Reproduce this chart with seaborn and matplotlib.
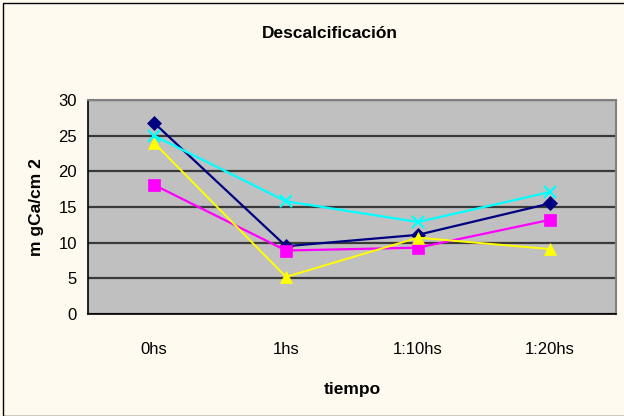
import matplotlib
matplotlib.use("Agg")
import matplotlib.pyplot as plt
import seaborn as sns
import pandas as pd
from matplotlib.patches import Rectangle

# datos
tiempos = ["0hs", "1hs", "1:10hs", "1:20hs"]
serie1 = [26.8, 9.5, 11.1, 15.5]
serie2 = [18.1, 8.9, 9.3, 13.2]
serie3 = [24.0, 5.2, 10.7, 9.1]
serie4 = [25.0, 15.8, 12.9, 17.1]

sns.set_style("white")
plt.rcParams['font.family'] = ['Liberation Sans', 'DejaVu Sans']
plt.rcParams['text.color'] = 'black'
plt.rcParams['axes.labelcolor'] = 'black'
plt.rcParams['xtick.color'] = 'black'
plt.rcParams['ytick.color'] = 'black'

fondo = "#FFFAEF"
fig = plt.figure(figsize=(6.24, 4.16), dpi=100, facecolor=fondo)
ax = fig.add_axes([88/624, 102/416, 528/624, 214/416])
ax.set_facecolor("#C0C0C0")

estilos = [
    (serie1, "#000080", "D", 7, 1.6),
    (serie2, "#FF00FF", "s", 8, 1.6),
    (serie3, "#FFFF00", "^", 9, 1.4),
    (serie4, "#00FFFF", "x", 9, 1.6),
]
for vals, col, mk, ms, lw in estilos:
    df = pd.DataFrame({"tiempo": tiempos, "valor": vals})
    sns.lineplot(data=df, x="tiempo", y="valor", color=col, marker=mk,
                 markersize=ms, linewidth=lw, markeredgecolor=col,
                 markeredgewidth=1.6 if mk == "x" else 0.5, sort=False, ax=ax)

ax.set_ylim(0, 30)
ax.set_xlim(-0.5, len(tiempos) - 0.5)
ax.set_yticks(range(0, 31, 5))
ax.yaxis.grid(True, color="#3a3a3a", linewidth=1.6)
ax.grid(axis="x", visible=False)
ax.set_axisbelow(True)

ax.set_xticks(range(len(tiempos)))
ax.set_xticklabels(tiempos, fontsize=12)
ax.set_xticks([i - 0.5 for i in range(len(tiempos) + 1)], minor=True)
ax.tick_params(axis="x", which="major", length=0, pad=20)
ax.tick_params(axis="x", which="minor", length=5, width=1, color="black", direction="out")
ax.tick_params(axis="y", length=5, width=1, color="black", direction="out", labelsize=12, pad=3)

for s in ["top", "right"]:
    ax.spines[s].set_color("#808080")
    ax.spines[s].set_linewidth(1.5)
for s in ["left", "bottom"]:
    ax.spines[s].set_color("black")
    ax.spines[s].set_linewidth(1.2)

ax.set_xlabel("tiempo", fontsize=12.5, fontweight="bold", labelpad=18)
ax.set_ylabel("m gCa/cm 2", fontsize=12.5, fontweight="bold", labelpad=10)
fig.text(330/624, 1 - 33/416, "Descalcificación", ha="center", va="center",
         fontsize=12.5, fontweight="bold")

fig.patches.append(Rectangle((3/624, 0), 1.0, 1 - 3/416, transform=fig.transFigure,
                             fill=False, edgecolor="black", linewidth=1))

plt.savefig("out.png", dpi=100, facecolor=fondo)
